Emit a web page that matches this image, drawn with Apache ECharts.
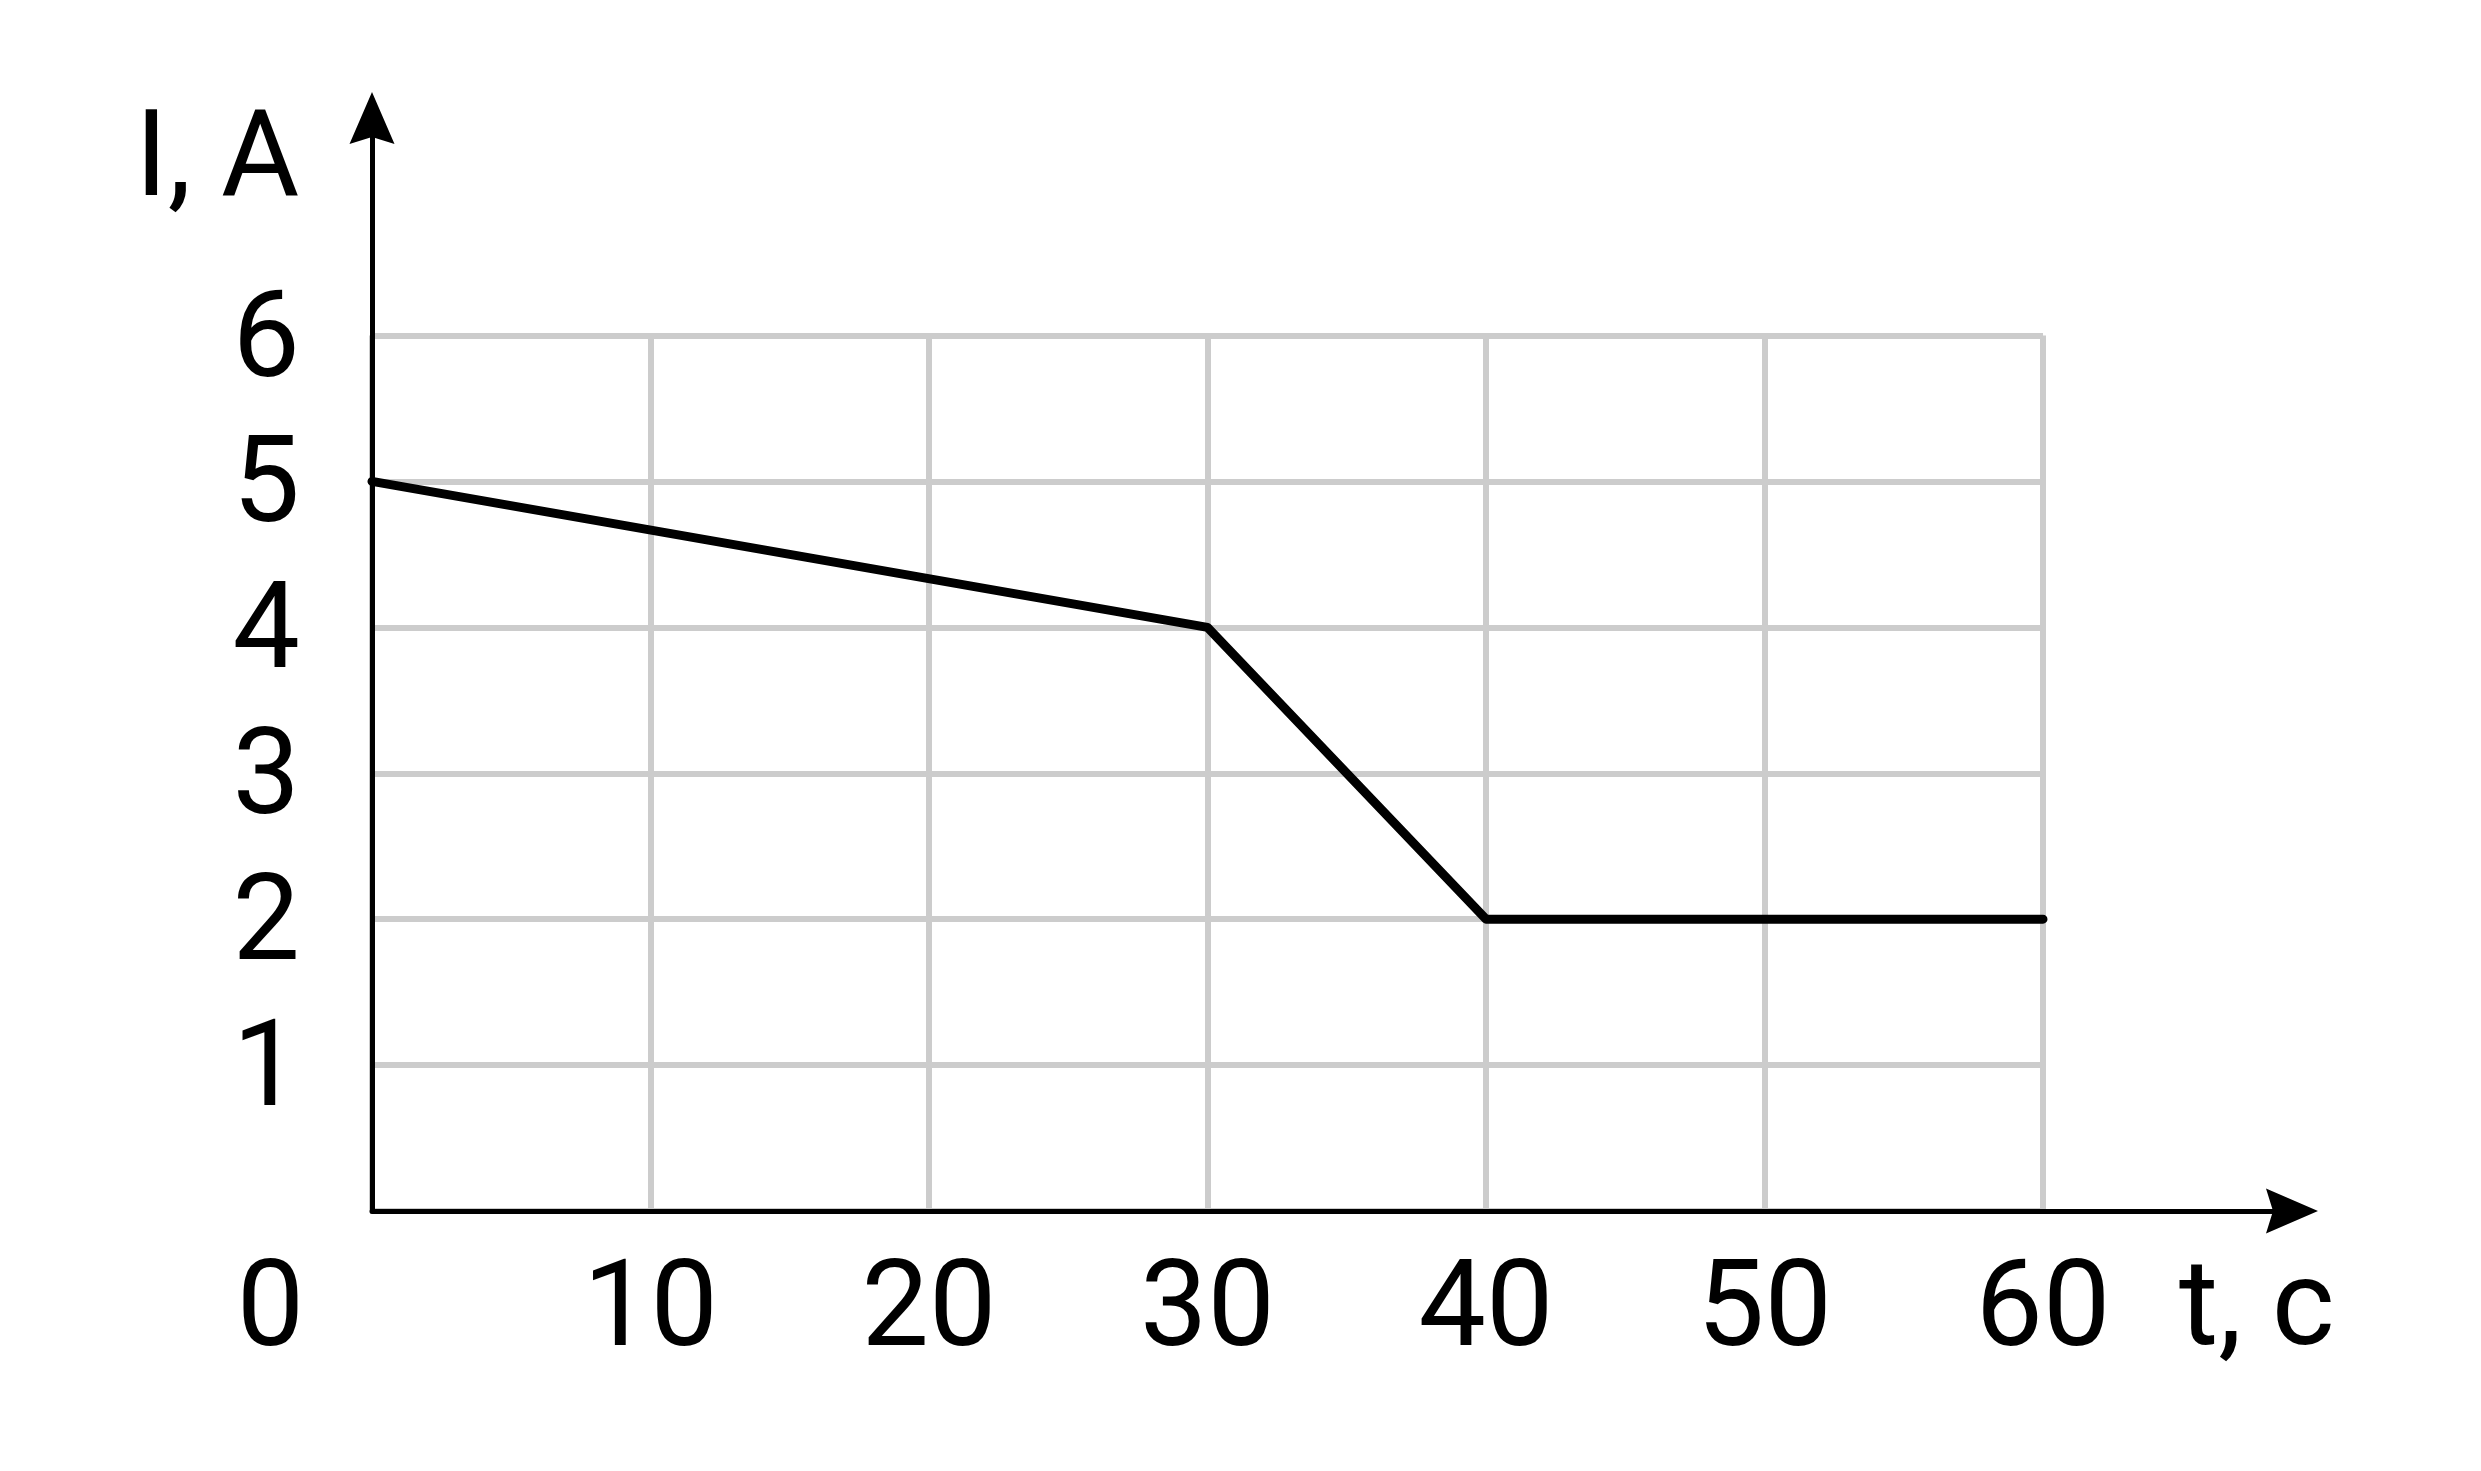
<!DOCTYPE html>
<html><head><meta charset="utf-8">
<script src="https://cdn.jsdelivr.net/npm/echarts@6/dist/echarts.min.js"></script>
<style>html,body{margin:0;padding:0;background:#fff}#c{width:2481px;height:1471px}</style>
</head><body><div id="c"></div>
<script>
const timeSec = [0, 30, 40, 60];
const currentA = [5, 4, 2, 2];
const xAxisName = 't, с';
const yAxisName = 'I, А';
const xMin = 0, xMax = 60, xStep = 10;
const yMin = 0, yMax = 6, yStep = 1;

const FONT = 'Roboto';
const FS = 120;
const ARROW = 'path://M22.5,0 L45,52 L22.5,45 L0,52 Z';
const seriesData = timeSec.map((t, i) => [t, currentA[i]]);

const chart = echarts.init(document.getElementById('c'), null, {renderer: 'canvas'});
chart.setOption({
  animation: false,
  backgroundColor: '#ffffff',
  grid: [
    {left: 372, right: 438, top: 335.5, bottom: 260},
    {left: 372, right: 189, top: 118, bottom: 260}
  ],
  xAxis: [
    {
      gridIndex: 0, type: 'value', min: xMin, max: xMax, interval: xStep,
      axisLine: {show: false}, axisTick: {show: false},
      splitLine: {show: true, lineStyle: {color: '#cccccc', width: 6}},
      axisLabel: {
        margin: 44,
        formatter: v => v === 0 ? '{z|0}' : '{n|' + v + '}',
        rich: {
          n: {fontFamily: FONT, fontSize: FS, color: '#000'},
          z: {fontFamily: FONT, fontSize: FS, color: '#000', padding: [0, 203, 0, 0]}
        }
      }
    },
    {
      gridIndex: 1, type: 'value', min: 0, max: 1, z: 5,
      axisLine: {show: true, onZero: false, lineStyle: {color: '#000', width: 5}, symbol: ['none', ARROW], symbolSize: [45, 52]},
      axisTick: {show: false}, axisLabel: {show: false}, splitLine: {show: false}
    }
  ],
  yAxis: [
    {
      gridIndex: 0, type: 'value', min: yMin, max: yMax, interval: yStep,
      axisLine: {show: false}, axisTick: {show: false},
      splitLine: {show: true, lineStyle: {color: '#cccccc', width: 6}},
      axisLabel: {
        margin: 72,
        formatter: v => v === 0 ? '' : '{n|' + v + '}',
        rich: {
          n: {fontFamily: FONT, fontSize: FS, color: '#000', padding: [20, 0, 0, 0]}
        }
      }
    },
    {
      gridIndex: 1, type: 'value', min: 0, max: 1, z: 5,
      axisLine: {show: true, onZero: false, lineStyle: {color: '#000', width: 5}, symbol: ['none', ARROW], symbolSize: [45, 52]},
      axisTick: {show: false}, axisLabel: {show: false}, splitLine: {show: false}
    }
  ],
  graphic: [
    {type: 'text', x: 135, y: 165, style: {text: yAxisName, font: FS + 'px ' + FONT, fill: '#000', align: 'left', verticalAlign: 'middle'}},
    {type: 'text', x: 2179, y: 1314, style: {text: xAxisName, font: FS + 'px ' + FONT, fill: '#000', align: 'left', verticalAlign: 'middle'}}
  ],
  series: [{
    type: 'line', xAxisIndex: 0, yAxisIndex: 0, data: seriesData,
    symbol: 'none', z: 10,
    lineStyle: {color: '#000', width: 9, cap: 'round', join: 'round'}
  }]
});
</script></body></html>
